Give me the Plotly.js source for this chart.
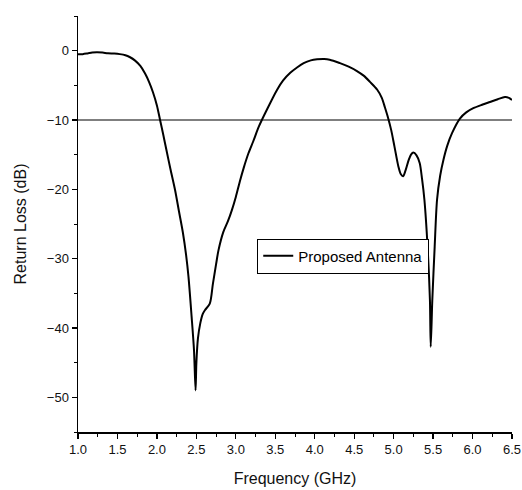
<!DOCTYPE html>
<html>
<head>
<meta charset="utf-8">
<script src="https://cdn.plot.ly/plotly-3.0.1.min.js"></script>
<style>html,body{margin:0;padding:0;background:#fff;}#chart{width:522px;height:490px;}</style>
</head>
<body>
<div id="chart"></div>
<script>
const freqGHz = [1.00, 1.06, 1.12, 1.18, 1.24, 1.31, 1.38, 1.46, 1.53, 1.60, 1.66, 1.72, 1.79, 1.85, 1.90, 1.95, 2.00, 2.04, 2.08, 2.12, 2.17, 2.23, 2.28, 2.33, 2.37, 2.40, 2.44, 2.47, 2.49, 2.50, 2.52, 2.55, 2.58, 2.61, 2.67, 2.71, 2.75, 2.78, 2.84, 2.90, 2.95, 3.00, 3.05, 3.10, 3.16, 3.22, 3.29, 3.39, 3.52, 3.60, 3.69, 3.78, 3.86, 3.95, 4.03, 4.12, 4.19, 4.32, 4.43, 4.53, 4.62, 4.70, 4.79, 4.85, 4.89, 4.93, 4.97, 5.01, 5.06, 5.09, 5.12, 5.15, 5.19, 5.22, 5.25, 5.29, 5.33, 5.36, 5.39, 5.43, 5.46, 5.47, 5.49, 5.52, 5.55, 5.59, 5.63, 5.68, 5.74, 5.84, 5.92, 6.01, 6.12, 6.22, 6.32, 6.41, 6.46, 6.50];
const returnLossDb = [-0.5, -0.5, -0.4, -0.28, -0.23, -0.28, -0.38, -0.42, -0.5, -0.65, -0.95, -1.4, -2.2, -3.3, -4.5, -6.0, -7.9, -10.0, -12.1, -14.3, -17.0, -20.1, -23.2, -26.3, -29.5, -32.6, -38.4, -43.2, -49.0, -45.1, -41.5, -39.3, -38.0, -37.4, -36.5, -33.6, -30.8, -28.8, -26.2, -24.6, -23.0, -21.1, -18.9, -16.9, -14.8, -13.1, -11.0, -8.6, -5.7, -4.3, -3.2, -2.4, -1.8, -1.4, -1.25, -1.2, -1.3, -1.8, -2.3, -2.9, -3.6, -4.5, -5.6, -6.8, -8.2, -9.7, -11.5, -13.8, -16.7, -17.8, -18.1, -17.3, -15.8, -15.0, -14.7, -15.1, -16.2, -18.5, -21.5, -28.3, -36.0, -42.7, -36.0, -28.3, -21.5, -18.0, -15.8, -13.7, -11.9, -9.8, -8.9, -8.3, -7.8, -7.4, -7.0, -6.7, -6.8, -7.1];
const refFreq = [1.0, 6.5];
const refLevel = [-10, -10];
const seriesName = 'Proposed Antenna';

const font = 'Arial, "Liberation Sans", sans-serif';
const traces = [
  {x: refFreq, y: refLevel, mode: 'lines', line: {color: '#000', width: 1.2}, showlegend: false, hoverinfo: 'skip'},
  {x: freqGHz, y: returnLossDb, mode: 'lines', name: seriesName, line: {color: '#000', width: 2, shape: 'spline', smoothing: 0.8}}
];
const axisCommon = {
  showline: true, linecolor: '#000', linewidth: 1.5, mirror: false,
  showgrid: false, zeroline: false, ticks: 'outside', ticklen: 5, tickwidth: 1.3, tickcolor: '#000',
  tickfont: {family: font, size: 13, color: '#111'}
};
const layout = {
  width: 522, height: 490,
  margin: {l: 78, r: 10, t: 16, b: 58},
  paper_bgcolor: '#fff', plot_bgcolor: '#fff',
  showlegend: true,
  legend: {x: 0.413, y: 0.465, xanchor: 'left', yanchor: 'top', bgcolor: '#fff', bordercolor: '#000', borderwidth: 1,
    font: {family: font, size: 15, color: '#000'}, tracegroupgap: 0, itemwidth: 30},
  xaxis: Object.assign({}, axisCommon, {range: [1.0, 6.5], tickvals: [1,1.5,2,2.5,3,3.5,4,4.5,5,5.5,6,6.5], ticktext: ['1.0','1.5','2.0','2.5','3.0','3.5','4.0','4.5','5.0','5.5','6.0','6.5'],
    minor: {ticks: 'outside', ticklen: 3, tickwidth: 1, tickcolor: '#000', dtick: 0.25},
    title: {text: 'Frequency (GHz)', font: {family: font, size: 16, color: '#111'}, standoff: 16}}),
  yaxis: Object.assign({}, axisCommon, {range: [-55, 5], tickvals: [0,-10,-20,-30,-40,-50],
    minor: {ticks: 'outside', ticklen: 3, tickwidth: 1, tickcolor: '#000', tickvals: [5,-5,-15,-25,-35,-45,-55]},
    title: {text: 'Return Loss (dB)', font: {family: font, size: 16, color: '#111'}, standoff: 16}})
};
Plotly.newPlot('chart', traces, layout, {displayModeBar: false, staticPlot: true});
</script>
</body>
</html>
